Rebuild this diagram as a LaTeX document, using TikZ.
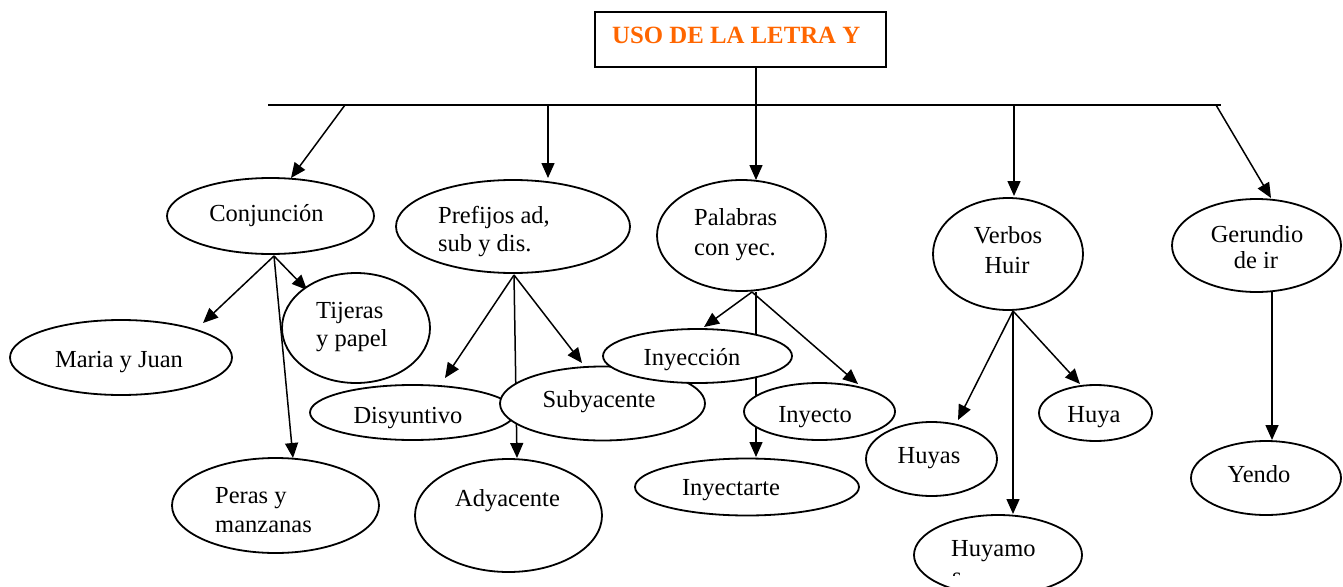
\documentclass[tikz,border=0pt]{standalone}
\usepackage{fontspec}
\setmainfont{Liberation Serif}
\usetikzlibrary{arrows.meta,shapes.geometric}
\definecolor{titleorange}{HTML}{FF6600}
\begin{document}
\begin{tikzpicture}[x=1pt,y=-1pt,
  ell/.style={draw, ellipse, line width=1.8pt, fill=white, inner sep=0pt},
  sz/.style 2 args={minimum width=#1pt, minimum height=#2pt},
  txt/.style={font=\fontsize{24.5}{28}\selectfont, inner sep=0pt},
  conn/.style={line width=1.5pt},
  arr/.style={conn, -{Triangle[length=15pt,width=13pt]}}
]
\useasboundingbox (0,0) rectangle (1343,586);
\clip (0,0) rectangle (1343,586);

% title
\node[draw, line width=1.8pt, rectangle, minimum width=291pt, minimum height=55pt, inner sep=0pt] (title) at (740.5,39.5) {};
\node[txt, anchor=base west, text=titleorange, font=\fontsize{24.8}{28}\selectfont\bfseries] (ttitle) at (612,44) {USO DE LA LETRA Y};

% coordinates
\coordinate (tdown) at (756,67);
\coordinate (barL) at (268,105);
\coordinate (barR) at (1221,105);
\coordinate (bconj) at (345,105);
\coordinate (bpref) at (548,105);
\coordinate (bverb) at (1014,105);
\coordinate (bger) at (1216,105);
\coordinate (jconj) at (274,256);
\coordinate (jpref) at (514,275);
\coordinate (jpal) at (752,292);
\coordinate (jpal2) at (756,292);
\coordinate (jverb) at (1013,311);
\coordinate (jger) at (1272,292);
% arrow tips
\coordinate (tpal) at (756,180);
\coordinate (tconj) at (291,178);
\coordinate (tpref) at (548,178);
\coordinate (tverb) at (1014,196);
\coordinate (tger) at (1271,198);
\coordinate (tmaria) at (203,323);
\coordinate (ttij) at (307,290);
\coordinate (tperas) at (293,458);
\coordinate (tdisy) at (445,378);
\coordinate (tsuby) at (582,363);
\coordinate (tady) at (517,458);
\coordinate (tinyc) at (704,327);
\coordinate (tinyt) at (858,384);
\coordinate (tinyr) at (756,457);
\coordinate (thuyas) at (958,420);
\coordinate (thuya) at (1080,384);
\coordinate (thuyamos) at (1013,514);
\coordinate (tyendo) at (1272,440);

% connectors
\draw[line width=1.7pt] (barL) -- (barR);
\draw[arr] (tdown) -- (tpal);
\draw[arr] (bconj) -- (tconj);
\draw[arr] (bpref) -- (tpref);
\draw[arr] (bverb) -- (tverb);
\draw[arr] (bger) -- (tger);
\draw[arr] (jconj) -- (tmaria);
\draw[arr] (jconj) -- (ttij);
\draw[arr] (jconj) -- (tperas);
\draw[arr] (jpref) -- (tdisy);
\draw[arr] (jpref) -- (tsuby);
\draw[arr] (jpref) -- (tady);
\draw[arr] (jpal) -- (tinyc);
\draw[arr] (jpal) -- (tinyt);
\draw[arr] (jpal2) -- (tinyr);
\draw[arr] (jverb) -- (thuyas);
\draw[arr] (jverb) -- (thuya);
\draw[arr] (jverb) -- (thuyamos);
\draw[arr] (jger) -- (tyendo);

% ellipses
\node[ell, sz={207}{76}] (conj) at (270.5,216) {};
\node[ell, sz={234}{93}] (pref) at (513,226.5) {};
\node[ell, sz={169}{111}] (pal) at (741.5,235.5) {};
\node[ell, sz={150}{112}] (verb) at (1008,254) {};
\node[ell, sz={169}{93}] (ger) at (1256.5,245.5) {};
\node[ell, sz={222}{75}] (maria) at (121,357.5) {};
\node[ell, sz={148}{110}] (tij) at (356,328) {};
\node[ell, sz={207}{95}] (peras) at (275.5,505.5) {};
\node[ell, sz={205}{55}] (disy) at (412.5,412.5) {};
\node[ell, sz={205}{74}] (suby) at (602.5,403.5) {};
\node[ell, sz={187}{113}] (ady) at (508.5,515.5) {};
\node[ell, sz={189}{54}] (inyc) at (697.5,356) {};
\node[ell, sz={151}{57}] (inyt) at (819.5,411.5) {};
\node[ell, sz={224}{57}] (inyr) at (747,487) {};
\node[ell, sz={131}{74}] (huyas) at (931.5,459) {};
\node[ell, sz={113}{56}] (huya) at (1095.5,413) {};
\node[ell, sz={168}{80}] (huyamos) at (998,555) {};
\node[ell, sz={150}{74}] (yendo) at (1266,478) {};

% texts
\node[txt, anchor=base] (lconj) at (266.5,221) {Conjunción};
\node[txt, anchor=base west] (lpref1) at (438,223) {Prefijos ad,};
\node[txt, anchor=base west] (lpref2) at (438,251) {sub y dis.};
\node[txt, anchor=base west] (lpal1) at (694,225) {Palabras};
\node[txt, anchor=base west] (lpal2) at (694,255) {con yec.};
\node[txt, anchor=base] (lverb1) at (1008,243) {Verbos};
\node[txt, anchor=base] (lverb2) at (1007,273) {Huir};
\node[txt, anchor=base] (lger1) at (1257,242) {Gerundio};
\node[txt, anchor=base] (lger2) at (1256,268) {de ir};
\node[txt, anchor=base] (lmaria) at (119,367) {Maria y Juan};
\node[txt, anchor=base west] (ltij1) at (316,318) {Tijeras};
\node[txt, anchor=base west] (ltij2) at (316,346) {y papel};
\node[txt, anchor=base west] (lperas1) at (215,503) {Peras y};
\node[txt, anchor=base west] (lperas2) at (215,532) {manzanas};
\node[txt, anchor=base] (ldisy) at (408,423) {Disyuntivo};
\node[txt, anchor=base] (lsuby) at (599,407) {Subyacente};
\node[txt, anchor=base] (lady) at (507.5,506) {Adyacente};
\node[txt, anchor=base] (linyc) at (692,365) {Inyección};
\node[txt, anchor=base] (linyt) at (815,422) {Inyecto};
\node[txt, anchor=base] (linyr) at (731,495) {Inyectarte};
\node[txt, anchor=base] (lhuyas) at (929,463) {Huyas};
\node[txt, anchor=base] (lhuya) at (1094,422) {Huya};
\node[txt, anchor=base west] (lhuyamos) at (951,556) {Huyamo};
\begin{scope}
  \clip (940,560) rectangle (980,575);
  \node[txt, anchor=base west] (lhuyamos2) at (952,584) {s};
\end{scope}
\node[txt, anchor=base] (lyendo) at (1259,482) {Yendo};
\end{tikzpicture}
\end{document}
